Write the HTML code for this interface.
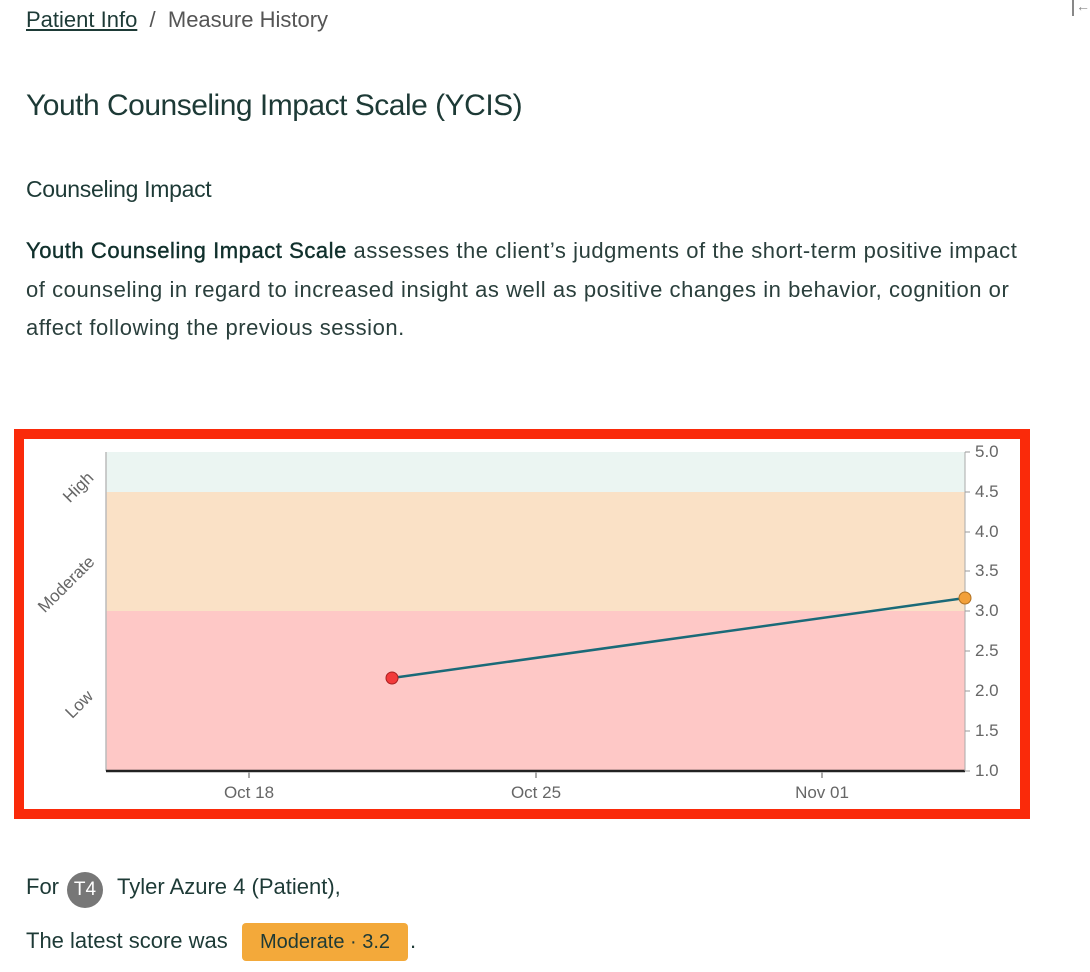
<!DOCTYPE html>
<html><head><style>
body{margin:0;width:1090px;height:972px;background:#fff;font-family:"Liberation Sans",sans-serif;color:#1d3a36;position:relative;overflow:hidden}
.a{position:absolute;white-space:nowrap}
</style></head><body>
<div class="a" style="left:26px;top:7px;font-size:22px;color:#1d3a36"><span style="text-decoration:underline">Patient Info</span><span style="color:#555">&nbsp;&nbsp;/&nbsp;&nbsp;Measure History</span></div>
<div class="a" style="left:1072px;top:0;width:2px;height:16px;background:#888"></div>
<div class="a" style="left:1076px;top:-2px;font-size:14px;color:#888">←</div>
<div class="a" style="left:26px;top:89px;font-size:30px;letter-spacing:-0.5px">Youth Counseling Impact Scale (YCIS)</div>
<div class="a" style="left:26px;top:176px;font-size:23px;letter-spacing:-0.3px">Counseling Impact</div>
<div class="a" style="left:26px;top:232px;font-size:22px;letter-spacing:0.55px;line-height:38.5px;color:#2a3f3c"><span style="color:#10302c;-webkit-text-stroke:0.4px #10302c">Youth Counseling Impact Scale</span> assesses the client’s judgments of the short-term positive impact<br>of counseling in regard to increased insight as well as positive changes in behavior, cognition or<br>affect following the previous session.</div>
<div class="a" style="left:14px;top:429px;width:996px;height:370px;border:10px solid #fa2a0a;background:#fff"></div>
<svg class="a" style="left:0;top:0" width="1090" height="972">
<rect x="106" y="452" width="859" height="40" fill="#ebf5f2"/>
<rect x="106" y="492" width="859" height="119" fill="#fae1c6"/>
<rect x="106" y="611" width="859" height="160" fill="#fec8c6"/>
<line x1="106" y1="452" x2="106" y2="771" stroke="#bbb" stroke-width="1.5"/>
<line x1="106" y1="771" x2="965" y2="771" stroke="#222" stroke-width="2.5"/>
<line x1="965" y1="452" x2="965" y2="771" stroke="#aaa" stroke-width="1"/>
<g stroke="#999" stroke-width="1">
<line x1="965" y1="452" x2="970" y2="452"/><line x1="965" y1="492" x2="970" y2="492"/><line x1="965" y1="532" x2="970" y2="532"/><line x1="965" y1="571" x2="970" y2="571"/><line x1="965" y1="611" x2="970" y2="611"/><line x1="965" y1="651" x2="970" y2="651"/><line x1="965" y1="691" x2="970" y2="691"/><line x1="965" y1="731" x2="970" y2="731"/><line x1="965" y1="771" x2="970" y2="771"/>
</g>
<g stroke="#aaa" stroke-width="2"><line x1="249" y1="772" x2="249" y2="778"/><line x1="536" y1="772" x2="536" y2="778"/><line x1="822" y1="772" x2="822" y2="778"/></g>
<g font-family="Liberation Sans" font-size="17" fill="#666">
<text x="975" y="457">5.0</text><text x="975" y="497">4.5</text><text x="975" y="537">4.0</text><text x="975" y="576">3.5</text><text x="975" y="616">3.0</text><text x="975" y="656">2.5</text><text x="975" y="696">2.0</text><text x="975" y="736">1.5</text><text x="975" y="776">1.0</text>
<text x="249" y="798" text-anchor="middle">Oct 18</text><text x="536" y="798" text-anchor="middle">Oct 25</text><text x="822" y="798" text-anchor="middle">Nov 01</text>
<text transform="translate(79,488) rotate(-45)" text-anchor="middle" dominant-baseline="middle">High</text>
<text transform="translate(67,585) rotate(-45)" text-anchor="middle" dominant-baseline="middle">Moderate</text>
<text transform="translate(80,705) rotate(-45)" text-anchor="middle" dominant-baseline="middle">Low</text>
</g>
<line x1="392" y1="678" x2="965" y2="598" stroke="#1a6a78" stroke-width="2.5"/>
<circle cx="392" cy="678" r="6" fill="#f23a3a" stroke="#a82020" stroke-width="1"/>
<circle cx="965" cy="598" r="6" fill="#f2a03a" stroke="#b07020" stroke-width="1"/>
</svg>
<div class="a" style="left:26px;top:874px;font-size:22px">For</div>
<div class="a" style="left:67px;top:872px;width:36px;height:36px;border-radius:18px;background:#777;color:#fff;font-size:19px;line-height:36px;text-align:center">T4</div>
<div class="a" style="left:117px;top:874px;font-size:22px">Tyler Azure 4 (Patient),</div>
<div class="a" style="left:26px;top:928px;font-size:22px">The latest score was</div>
<div class="a" style="left:242px;top:923px;width:166px;height:38px;border-radius:4px;background:#f3a93a;font-size:20px;line-height:38px;text-align:center;color:#1d3a36">Moderate · 3.2</div>
<div class="a" style="left:410px;top:928px;font-size:22px">.</div>
</body></html>
